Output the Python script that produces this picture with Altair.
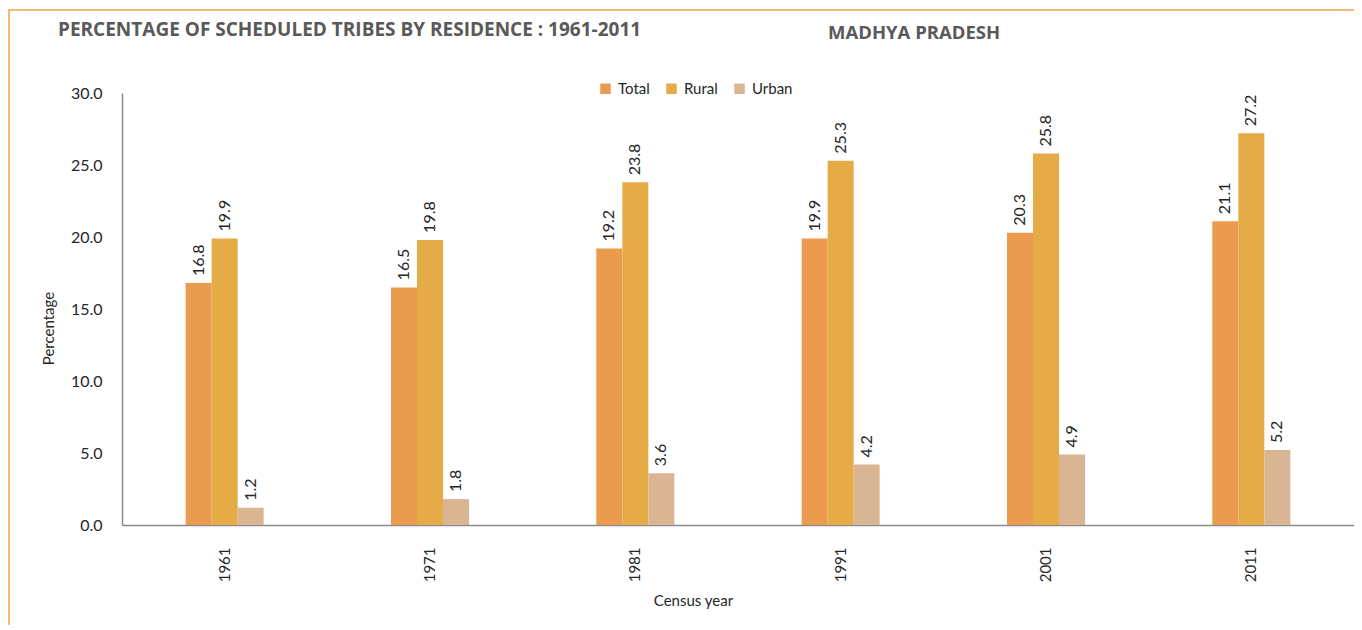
import altair as alt
import pandas as pd

years = ["1961", "1971", "1981", "1991", "2001", "2011"]
total = [16.8, 16.5, 19.2, 19.9, 20.3, 21.1]
rural = [19.9, 19.8, 23.8, 25.3, 25.8, 27.2]
urban = [1.2, 1.8, 3.6, 4.2, 4.9, 5.2]
series = ["Total", "Rural", "Urban"]
colors = ["#EA9B4D", "#E5AB47", "#DAB593"]
y_ticks = [0, 5, 10, 15, 20, 25, 30]

rows = []
for i, yr in enumerate(years):
    for s, vals in zip(series, [total, rural, urban]):
        rows.append({"year": yr, "series": s, "value": vals[i]})
df = pd.DataFrame(rows)

W, H = 1232, 432
TXT = "#262626"
LFONT = "Lato"

x_enc = alt.X(
    "year:N", sort=years, title="Census year",
    scale=alt.Scale(paddingInner=0.62, paddingOuter=0.31),
    axis=alt.Axis(labelAngle=270, labelPadding=22, ticks=False, tickSize=0,
                  domainColor="#8c8c8c", domainWidth=1.5,
                  labelFont=LFONT, labelFontSize=15, labelColor=TXT,
                  titleFont=LFONT, titleFontSize=15, titleFontWeight="normal",
                  titleColor=TXT, titleX=571, titleY=75,
                  titleAlign="center", titleBaseline="middle"),
)
y_enc = alt.Y(
    "value:Q", title="Percentage",
    scale=alt.Scale(domain=[0, 30]),
    axis=alt.Axis(values=y_ticks, format=".1f", grid=False, ticks=False, tickSize=0,
                  labelPadding=20, domainColor="#8c8c8c", domainWidth=1.5,
                  labelFont=LFONT, labelFontSize=16, labelColor=TXT,
                  titleFont=LFONT, titleFontSize=15, titleFontWeight="normal",
                  titleColor=TXT, titleX=-74, titleY=235, titleAngle=270,
                  titleAlign="center", titleBaseline="middle"),
)
xo = alt.XOffset("series:N", sort=series)

bars = alt.Chart(df).mark_bar().encode(
    x=x_enc, y=y_enc, xOffset=xo,
    color=alt.Color("series:N", sort=series,
                    scale=alt.Scale(domain=series, range=colors),
                    legend=alt.Legend(title=None, orient="none", legendX=476, legendY=-12,
                                      direction="horizontal", symbolType="square",
                                      symbolSize=110, symbolStrokeWidth=0,
                                      labelFont=LFONT, labelFontSize=15, labelColor=TXT,
                                      columnPadding=14, labelOffset=5)),
)

labels = alt.Chart(df).mark_text(angle=270, align="left", baseline="middle", dx=7,
                                 font=LFONT, fontSize=16, color=TXT).encode(
    x=alt.X("year:N", sort=years), y=alt.Y("value:Q"), xOffset=xo,
    text=alt.Text("value:Q", format=".1f"),
)

one = alt.Data(values=[{"a": 1}])
frame = alt.Chart(one).mark_rect(fillOpacity=0, stroke="#F4A24F", strokeWidth=1.5).encode(
    x=alt.value(-113), x2=alt.value(1400), y=alt.value(-83), y2=alt.value(700)
)
title1 = alt.Chart(one).mark_text(align="left", baseline="middle", font="Open Sans",
                                  fontWeight="bold", fontSize=19, color="#595959").encode(
    x=alt.value(-64), y=alt.value(-63),
    text=alt.value("PERCENTAGE OF SCHEDULED TRIBES BY RESIDENCE : 1961-2011"),
)
title2 = alt.Chart(one).mark_text(align="left", baseline="middle", font="Open Sans",
                                  fontWeight="bold", fontSize=18.5, color="#595959").encode(
    x=alt.value(706), y=alt.value(-60),
    text=alt.value("MADHYA PRADESH"),
)

chart = alt.layer(frame, bars, labels, title1, title2).properties(
    width=W, height=H,
    autosize=alt.AutoSizeParams(type="none"),
    padding={"left": 114, "top": 85, "right": 0, "bottom": 100},
    background="white",
).configure_view(stroke=None)

chart.save("out.html", embed_options={"renderer": "svg", "actions": False})
